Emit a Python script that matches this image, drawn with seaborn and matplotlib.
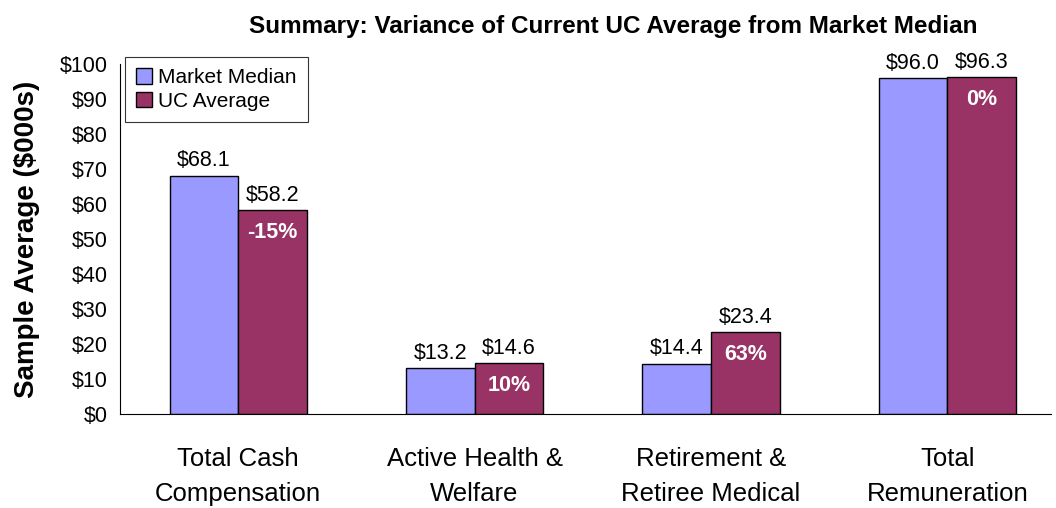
import pandas as pd
import matplotlib.pyplot as plt
import seaborn as sns

# Data
categories = ["Total Cash\nCompensation", "Active Health &\nWelfare",
              "Retirement &\nRetiree Medical", "Total\nRemuneration"]
market_median = [68.1, 13.2, 14.4, 96.0]
uc_average = [58.2, 14.6, 23.4, 96.3]
variance_labels = ["-15%", "10%", "63%", "0%"]
series = ["Market Median", "UC Average"]

df = pd.DataFrame({
    "category": categories * 2,
    "series": [series[0]] * 4 + [series[1]] * 4,
    "value": market_median + uc_average,
})

sns.set_style("white")
plt.rcParams["font.family"] = ["Liberation Sans", "DejaVu Sans"]
plt.rcParams["text.color"] = "black"
plt.rcParams["axes.labelcolor"] = "black"
plt.rcParams["xtick.color"] = "black"
plt.rcParams["ytick.color"] = "black"

fig = plt.figure(figsize=(10.56, 5.08), dpi=100)
ax = fig.add_axes([0.1136, 0.185, 0.882, 0.689])

sns.barplot(data=df, x="category", y="value", hue="series",
            palette=["#9999FF", "#993366"], width=0.58,
            edgecolor="black", linewidth=1.0, saturation=1, ax=ax)

# value labels above bars
for cont, vals in zip(ax.containers, [market_median, uc_average]):
    ax.bar_label(cont, labels=[f"${v:.1f}" for v in vals],
                 padding=3, fontsize=15.5, color="black")

# percent variance inside the UC bars
for patch, txt in zip(ax.containers[1], variance_labels):
    ax.annotate(txt, (patch.get_x() + patch.get_width() / 2, patch.get_height()),
                xytext=(0, -16), textcoords="offset points",
                ha="center", va="center", color="white",
                fontsize=15.5, fontweight="bold")

ax.set_ylim(0, 100)
ax.set_yticks(range(0, 101, 10))
ax.set_yticklabels([f"${t}" for t in range(0, 101, 10)], fontsize=15.5)
ax.set_xlim(-0.5, 3.44)
ax.set_xticks([-0.5, 0.5, 1.5, 2.5])
ax.set_xticklabels([])
ax.set_xticks(range(4), minor=True)
ax.set_xticklabels(categories, minor=True, fontsize=18.5, linespacing=1.55)
ax.tick_params(axis="x", which="major", direction="out", length=9, width=1, color="#808080")
ax.tick_params(axis="x", which="minor", length=0, pad=24)
ax.tick_params(axis="y", direction="out", length=6, width=1, color="black", pad=3)

sns.despine(ax=ax)
ax.spines["left"].set_color("black")
ax.spines["bottom"].set_color("black")

ax.set_xlabel("")
ax.set_ylabel("Sample Average ($000s)", fontsize=20, fontweight="bold", labelpad=14)
ax.set_title("Summary: Variance of Current UC Average from Market Median",
             fontsize=17.5, fontweight="bold", pad=22, x=0.53)

leg = ax.legend(loc="upper left", bbox_to_anchor=(-0.006, 1.05), fontsize=15,
                frameon=True, fancybox=False, handlelength=0.75, handleheight=0.75,
                handletextpad=0.3, borderpad=0.55, labelspacing=0.2)
leg.get_frame().set_edgecolor("black")
leg.get_frame().set_linewidth(0.8)

fig.savefig("out.png", dpi=100)
